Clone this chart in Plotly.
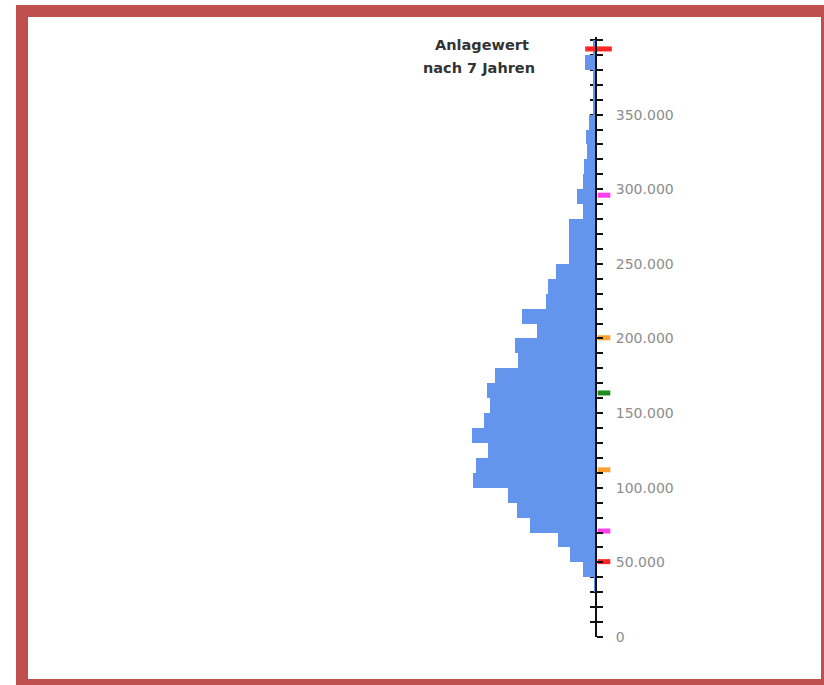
import plotly.graph_objects as go

# Histogram bins (lower edge of each 10.000 bin) and counts
bin_start = list(range(30000, 400000, 10000))
counts = [2, 13, 26, 38, 66, 79, 88, 123, 120, 108, 124, 112, 106, 109, 101, 78, 81,
          59, 74, 50, 48, 40, 27, 27, 27, 13, 19, 13, 12, 9, 10, 7, 3, 3, 3, 11, 3]
bin_width = 10000

# Marked values on the axis (percentiles)
mark_values = [50500, 71000, 112000, 163500, 200500, 296000]
mark_colors = ["#ff2424", "#ff3cf0", "#ffa030", "#1e8c1e", "#ffa030", "#ff3cf0"]
top_mark_value = [394000]
top_mark_color = "#ff2424"

tick_vals = list(range(0, 400000, 50000))
tick_text = ["{:,}".format(v).replace(",", ".") for v in tick_vals]

bin_centers = [b + bin_width / 2 for b in bin_start]

X_MAX, X_MIN = 130, -16
axis_pos = X_MAX / (X_MAX - X_MIN)

fig = go.Figure()
fig.add_trace(go.Bar(
    y=bin_centers, x=counts, orientation="h", width=bin_width,
    marker=dict(color="#6495ed", line=dict(width=0)),
    hoverinfo="skip",
))
fig.add_trace(go.Scatter(
    y=mark_values, x=[-8] * len(mark_values), mode="markers",
    marker=dict(symbol="line-ew-open", size=9, color=mark_colors,
                line=dict(width=5, color=mark_colors)),
    cliponaxis=False, hoverinfo="skip",
))
fig.add_trace(go.Scatter(
    y=top_mark_value, x=[-2.5], mode="markers",
    marker=dict(symbol="line-ew-open", size=19, color=top_mark_color,
                line=dict(width=5, color=top_mark_color)),
    cliponaxis=False, hoverinfo="skip",
))
# empty trace so that the crossing-tick axis is drawn
fig.add_trace(go.Scatter(y=[None], x=[None], yaxis="y2", showlegend=False, hoverinfo="skip"))

L, R, T, B = 466, 612, 37, 637
W, H = 824, 685

def px(xp):
    return (xp - L) / (R - L)

def py(yp):
    return (B - yp) / (B - T)

FONT = "DejaVu Sans, Verdana, sans-serif"

fig.update_layout(
    width=W, height=H,
    margin=dict(l=L, r=W - R, t=T, b=H - B, pad=0),
    paper_bgcolor="white", plot_bgcolor="white",
    showlegend=False, bargap=0,
    xaxis=dict(range=[X_MAX, X_MIN], visible=False, fixedrange=True),
    yaxis=dict(
        range=[0, 402000], side="right", anchor="free", position=axis_pos,
        showline=True, linecolor="#111", linewidth=2,
        ticks="outside", ticklen=6, tickwidth=1.5, tickcolor="#111",
        tickvals=tick_vals, ticktext=tick_text,
        minor=dict(dtick=10000, tick0=0, ticks="outside", ticklen=6, tickwidth=1.5, tickcolor="#111"),
        showgrid=False, zeroline=False,
        tickfont=dict(family=FONT, size=14, color="#8c8c8c"),
        ticklabelstandoff=10,
    ),
    yaxis2=dict(
        range=[0, 402000], overlaying="y", side="right", anchor="free", position=axis_pos,
        showline=False, ticks="inside", ticklen=6, tickwidth=1.5, tickcolor="#111",
        tick0=0, dtick=10000, showticklabels=False, showgrid=False, zeroline=False,
        layer="below traces",
    ),
    shapes=[dict(type="rect", xref="paper", yref="paper",
                 x0=px(22), x1=px(827), y0=py(11), y1=py(685),
                 line=dict(color="#c0504d", width=12), fillcolor="rgba(0,0,0,0)", layer="above")],
    annotations=[
        dict(text="<b>Anlagewert</b>", xref="paper", yref="paper", x=px(482), y=py(45),
             showarrow=False, xanchor="center", yanchor="middle",
             font=dict(family=FONT, size=14.5, color="#333")),
        dict(text="<b>nach 7 Jahren</b>", xref="paper", yref="paper", x=px(479), y=py(68),
             showarrow=False, xanchor="center", yanchor="middle",
             font=dict(family=FONT, size=14.5, color="#333")),
    ],
)

fig.write_html("out.html", config={"displayModeBar": False},
               post_script="document.body.style.margin='0';document.body.style.overflow='hidden';")
